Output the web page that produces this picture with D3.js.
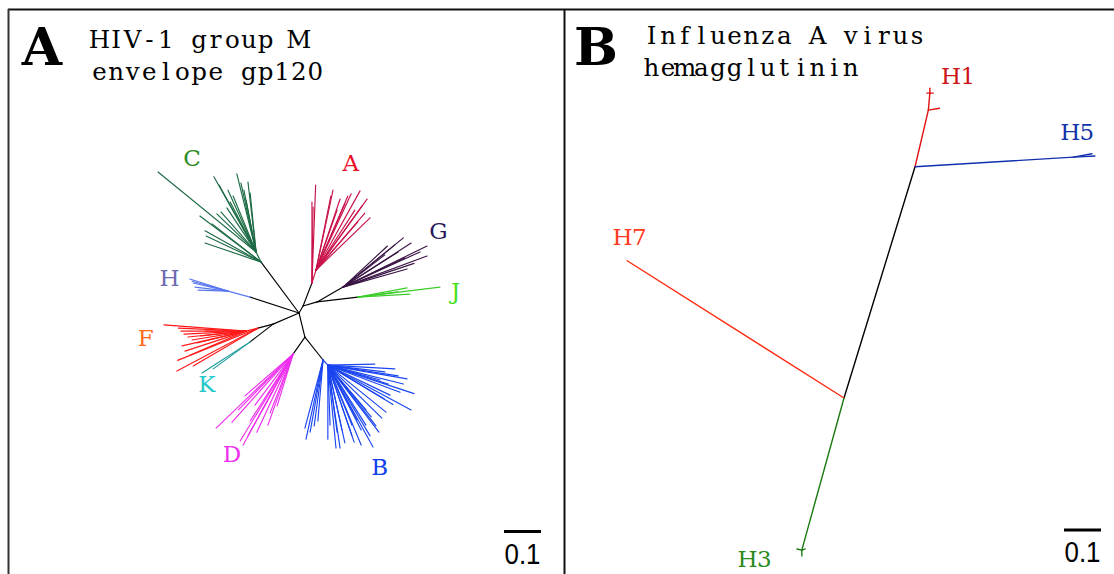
<!DOCTYPE html>
<html><head><meta charset="utf-8">
<script src="https://cdn.jsdelivr.net/npm/d3@7"></script>
<style>body{margin:0;background:#fff} svg{display:block}</style>
</head><body>
<svg id="chart" width="1114" height="574"></svg>
<script>
// ---------------- DATA (tree layout coordinates, substitutions per site) ----------------
// Panel A: HIV-1 group M env gp120 — internal nodes [id, parent, x, y, clade]
const hivNodes = [
  ["R", null, 0, 0, null],
  ["up", "R", 0.011, -0.019, null],
  ["nJ", "up", 0.049, -0.030, null],
  ["Gb", "nJ", 0.119, -0.070, null],
  ["Jb", "nJ", 0.159, -0.043, null],
  ["Ab", "up", 0.035, -0.081, null],
  ["Ai", "Ab", 0.046, -0.116, "A"],
  ["Cb", "R", -0.103, -0.138, null],
  ["Cs", "Cb", -0.116, -0.165, "C"],
  ["Hb", "R", -0.132, -0.043, null],
  ["Hi", "Hb", -0.192, -0.059, "H"],
  ["FK", "R", -0.070, 0.030, null],
  ["Fb", "FK", -0.111, 0.041, null],
  ["Fi", "Fb", -0.143, 0.049, "F"],
  ["Kb", "FK", -0.132, 0.078, null],
  ["low", "R", 0.016, 0.065, null],
  ["Db", "low", -0.016, 0.111, null],
  ["Bb", "low", 0.065, 0.127, null],
  ["Bs", "Bb", 0.078, 0.141, "B"]
];
// Tips per subtype: [parent, x, y]
const tipsC = [
  ["Cs",-0.381,-0.381],["Cb",-0.268,-0.262],["Cb",-0.254,-0.222],["Cb",-0.251,-0.208],
  ["Cb",-0.254,-0.189],["Cs",-0.222,-0.268],["Cs",-0.211,-0.273],["Cs",-0.195,-0.284],
  ["Cs",-0.186,-0.300],["Cs",-0.230,-0.368],["Cs",-0.216,-0.346],["Cs",-0.192,-0.332],
  ["Cs",-0.178,-0.316],["Cs",-0.168,-0.376],["Cs",-0.157,-0.351],["Cs",-0.149,-0.332],
  ["Cs",-0.138,-0.354],["Cs",-0.132,-0.324],["Cs",-0.143,-0.305],["Cb",-0.235,-0.241]
];
const tipsA = [
  ["Ab",0.045,-0.346],["Ab",0.035,-0.300],["Ab",0.038,-0.286],["Ai",0.092,-0.332],
  ["Ai",0.086,-0.316],["Ai",0.141,-0.322],["Ai",0.165,-0.330],["Ai",0.184,-0.308],
  ["Ai",0.192,-0.257],["Ai",0.111,-0.308],["Ai",0.124,-0.295],["Ai",0.151,-0.278],
  ["Ai",0.170,-0.289],["Ai",0.178,-0.270],["Ai",0.103,-0.278],["Ai",0.132,-0.316],
  ["Ai",0.159,-0.246]
];
const tipsG = [
  ["Gb",0.282,-0.203],["Gb",0.303,-0.189],["Gb",0.346,-0.181],["Gb",0.346,-0.154],
  ["Gb",0.239,-0.181],["Gb",0.311,-0.134],["Gb",0.292,-0.119],["Gb",0.268,-0.165],
  ["Gb",0.327,-0.165],["Gb",0.259,-0.184],["Gb",0.232,-0.157],["Gb",0.286,-0.149]
];
const tipsJ = [["Jb",0.381,-0.070],["Jb",0.292,-0.068],["Jb",0.300,-0.051],["Jb",0.268,-0.057]];
const tipsH = [["Hi",-0.295,-0.092],["Hi",-0.286,-0.081],["Hi",-0.281,-0.070],["Hi",-0.273,-0.062],["Hi",-0.289,-0.086]];
const tipsF = [
  ["Fi",-0.365,0.032],["Fi",-0.326,0.041],["Fi",-0.319,0.049],["Fi",-0.311,0.057],
  ["Fi",-0.300,0.065],["Fi",-0.316,0.089],["Fi",-0.308,0.103],["Fb",-0.328,0.128],
  ["Fb",-0.330,0.157],["Fb",-0.286,0.143],["Fi",-0.289,0.073],["Fi",-0.276,0.081],
  ["Fi",-0.295,0.114],["Fi",-0.265,0.062],["Fi",-0.254,0.049]
];
const tipsK = [["Kb",-0.262,0.162],["Kb",-0.232,0.151]];
const tipsD = [
  ["Db",-0.224,0.311],["Db",-0.159,0.346],["Db",-0.151,0.357],["Db",-0.146,0.224],
  ["Db",-0.164,0.262],["Db",-0.114,0.322],["Db",-0.084,0.303],["Db",-0.059,0.251],
  ["Db",-0.132,0.292],["Db",-0.099,0.262],["Db",-0.119,0.249],["Db",-0.078,0.270],
  ["Db",-0.181,0.295],["Db",-0.138,0.332]
];
const tipsB = [
  ["Bb",0.019,0.341],["Bb",0.016,0.311],["Bb",0.041,0.305],["Bb",0.051,0.292],["Bb",0.030,0.322],
  ["Bs",0.078,0.341],["Bs",0.100,0.365],["Bs",0.111,0.365],["Bs",0.124,0.351],["Bs",0.168,0.357],
  ["Bs",0.200,0.362],["Bs",0.216,0.322],["Bs",0.303,0.262],["Bs",0.311,0.218],["Bs",0.292,0.178],
  ["Bs",0.259,0.151],["Bs",0.205,0.138],["Bs",0.254,0.247],["Bs",0.230,0.232],["Bs",0.195,0.281],
  ["Bs",0.168,0.316],["Bs",0.143,0.331],["Bs",0.282,0.192],["Bs",0.273,0.214],["Bs",0.084,0.303],
  ["Bs",0.103,0.322],["Bs",0.143,0.303],["Bs",0.157,0.289],["Bs",0.181,0.303],["Bs",0.192,0.332],
  ["Bs",0.224,0.284],["Bs",0.235,0.268],["Bs",0.246,0.222],["Bs",0.268,0.170],["Bs",0.232,0.159],
  ["Bs",0.219,0.181],["Bs",0.241,0.192],["Bs",0.181,0.262],["Bs",0.149,0.349],["Bs",0.116,0.316],
  ["Bs",0.208,0.305]
];
const hivSubtypes = ["C","A","G","J","H","F","K","D","B"];
const hivTipSets = [tipsC, tipsA, tipsG, tipsJ, tipsH, tipsF, tipsK, tipsD, tipsB];

// Panel B: Influenza A hemagglutinin — nodes [id, parent, x, y, subtype]
const fluNodes = [
  ["N2", null, 0, 0, null],
  ["N1", "N2", 0.192, -0.625, null],
  ["H1n", "N1", 0.228, -0.778, "H1"],
  ["H1t", "H1n", 0.232, -0.824, "H1"],
  ["H1a", "H1t", 0.224, -0.824, "H1"],
  ["H1b", "H1t", 0.241, -0.824, "H1"],
  ["H1c", "H1t", 0.232, -0.837, "H1"],
  ["H1d", "H1n", 0.258, -0.783, "H1"],
  ["H5n", "N1", 0.620, -0.651, "H5"],
  ["H5a", "H5n", 0.678, -0.654, "H5"],
  ["H5b", "H5n", 0.670, -0.660, "H5"],
  ["H7t", "N2", -0.586, -0.371, "H7"],
  ["H3n", "N2", -0.114, 0.411, "H3"],
  ["H3a", "H3n", -0.127, 0.408, "H3"],
  ["H3b", "H3n", -0.105, 0.408, "H3"],
  ["H3c", "H3n", -0.114, 0.427, "H3"]
];
const fluSubtypes = ["H1","H5","H7","H3"];
const scaleBarValue = 0.1;
const panelTitles = [["HIV-1 group M","envelope gp120"],["Influenza A virus","hemagglutinin"]];
const panelLetters = ["A","B"];

// ---------------- STYLE / LAYOUT ----------------
const hivLine = {C:"#1d6b45",A:"#c8134a",G:"#3a1545",J:"#3ccc2a",H:"#5a78f0",F:"#ff1a1a",K:"#1a9a9a",D:"#ee2eee",B:"#1a45f0"};
const hivLab  = {C:"#2e8b22",A:"#ea1028",G:"#2b1b5e",J:"#44e01a",H:"#6b6bb0",F:"#ff6a1a",K:"#20c8c8",D:"#ee30ee",B:"#1040f0"};
const hivLabPos = {C:[-0.289,-0.396],A:[0.140,-0.384],G:[0.377,-0.201],H:[-0.350,-0.074],J:[0.423,-0.037],F:[-0.414,0.089],K:[-0.249,0.214],D:[-0.181,0.403],B:[0.218,0.437]};
const fluLine = {H1:"#e01010",H5:"#1030b0",H7:"#ff2a10",H3:"#1a7a10"};
const fluLab  = {H1:"#cc1515",H5:"#1033a8",H7:"#ff3a22",H3:"#2a8a1a"};
const fluLabPos = {H1:[0.312,-0.850],H5:[0.634,-0.698],H7:[-0.576,-0.414],H3:[-0.238,0.457]};

const svg = d3.select("#chart");
const serif = "'DejaVu Serif','Liberation Serif',serif";
const CELL = 16.6;

// text laid out on a fixed-width grid (typewriter look) with a serif face
function gridText(parent, str, xCenterFirst, y, size, fill){
  const xs = Array.from(str, (c, i) => (xCenterFirst + i * CELL).toFixed(1)).join(" ");
  return parent.append("text").attr("x", xs).attr("y", y).attr("text-anchor","middle")
    .attr("font-family", serif).attr("font-size", size).attr("fill", fill || "#000").text(str);
}

// Frame
const frame = svg.append("g").attr("stroke","#111").attr("stroke-width",2).attr("fill","none");
frame.append("line").attr("x1",8).attr("y1",9.5).attr("x2",1114).attr("y2",9.5);
frame.append("line").attr("x1",8.5).attr("y1",9).attr("x2",8.5).attr("y2",574).attr("stroke","#333");
frame.append("line").attr("x1",564.5).attr("y1",9).attr("x2",564.5).attr("y2",574);

function drawTree(g, nodes, xs, ys, colorOf, width){
  const byId = new Map(nodes.map(n => [n[0], n]));
  const edges = nodes.filter(n => n[1] !== null).map(n => ({p: byId.get(n[1]), c: n}));
  g.selectAll("line.edge").data(edges).join("line").attr("class","edge")
    .attr("x1", d => xs(d.p[2])).attr("y1", d => ys(d.p[3]))
    .attr("x2", d => xs(d.c[2])).attr("y2", d => ys(d.c[3]))
    .attr("stroke", d => colorOf(d.c)).attr("stroke-width", width)
    .attr("stroke-linecap","round");
}

// ---------- Panel A ----------
const xA = d3.scaleLinear().domain([0, 0.1]).range([299, 336]);
const yA = d3.scaleLinear().domain([0, 0.1]).range([313, 350]);
let allA = hivNodes.slice();
hivTipSets.forEach((set, i) => set.forEach((t, j) => allA.push([hivSubtypes[i]+j, t[0], t[1], t[2], hivSubtypes[i]])));
const gA = svg.append("g");
drawTree(gA, allA, xA, yA, n => n[4] ? hivLine[n[4]] : "#000", 1.15);
hivSubtypes.forEach(d => gridText(gA, d, xA(hivLabPos[d][0]), yA(hivLabPos[d][1]), 23, hivLab[d]));

// ---------- Panel B ----------
const xB = d3.scaleLinear().domain([0, 0.1]).range([844, 881]);
const yB = d3.scaleLinear().domain([0, 0.1]).range([398, 435]);
const gB = svg.append("g");
drawTree(gB, fluNodes, xB, yB, n => n[4] ? fluLine[n[4]] : "#000", 1.4);
fluSubtypes.forEach(d => gridText(gB, d, xB(fluLabPos[d][0]) - CELL/2, yB(fluLabPos[d][1]), 23, fluLab[d]));

// ---------- Panel letters and titles ----------
const letterX = [42, 596], titleX = [99.5, 651.5], titleY = [[48, 80], [44, 76]];
panelLetters.forEach((L, i) => {
  svg.append("text").attr("x", letterX[i]).attr("y", 65).attr("text-anchor","middle")
    .attr("font-family", serif).attr("font-weight","bold").attr("font-size", 52).text(L);
  panelTitles[i].forEach((line, k) => gridText(svg, line, titleX[i], titleY[i][k], 24.5));
});

// ---------- Scale bars ----------
function scaleBar(xs, right, y){
  const w = xs(scaleBarValue) - xs(0);
  svg.append("line").attr("x1", right - w).attr("x2", right).attr("y1", y).attr("y2", y)
    .attr("stroke","#000").attr("stroke-width",3);
  svg.append("text").attr("x", right - w/2).attr("y", y + 32).attr("text-anchor","middle")
    .attr("font-family","'Liberation Sans',Arial,sans-serif").attr("font-size",29)
    .attr("textLength", 36).attr("lengthAdjust","spacingAndGlyphs")
    .text(String(scaleBarValue));
}
scaleBar(xA, 541, 531.5);
scaleBar(xB, 1101, 530);
</script>
</body></html>
